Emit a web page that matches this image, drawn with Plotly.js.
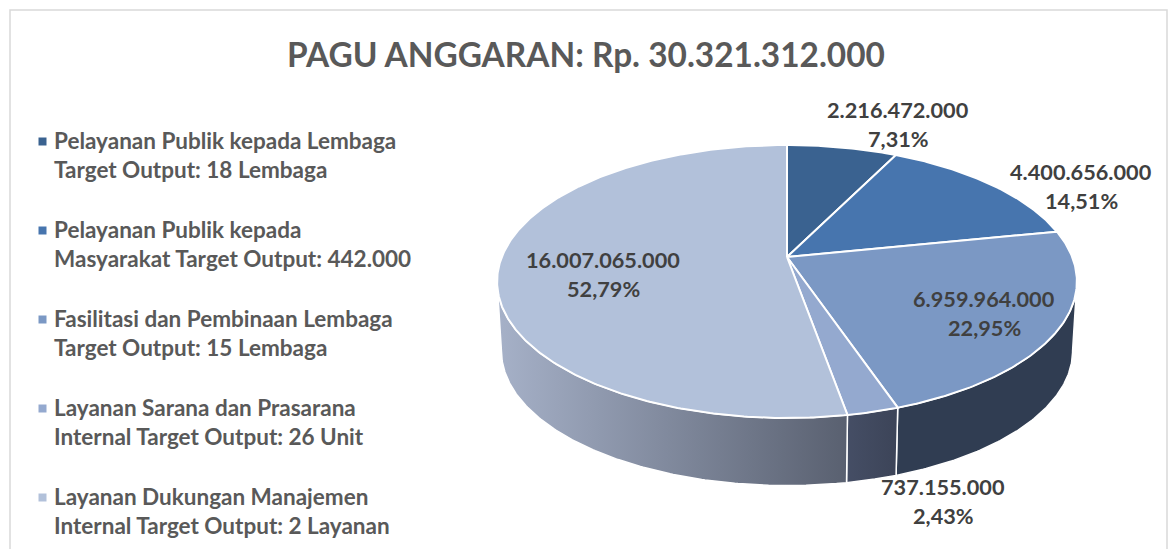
<!DOCTYPE html>
<html>
<head>
<meta charset="utf-8">
<script src="https://cdn.plot.ly/plotly-3.0.1.min.js"></script>
<style>html,body{margin:0;padding:0;background:#fff}#chart{width:1170px;height:549px}</style>
</head>
<body>
<div id="chart"></div>
<script>
// ---- data ----
const chartTitle = 'PAGU ANGGARAN: Rp. 30.321.312.000';
const categories = [
  ['Pelayanan Publik kepada Lembaga', 'Target Output: 18 Lembaga'],
  ['Pelayanan Publik kepada', 'Masyarakat Target Output: 442.000'],
  ['Fasilitasi dan Pembinaan Lembaga', 'Target Output: 15 Lembaga'],
  ['Layanan Sarana dan Prasarana', 'Internal Target Output: 26 Unit'],
  ['Layanan Dukungan Manajemen', 'Internal Target Output: 2 Layanan']
];
const values = [2216472000, 4400656000, 6959964000, 737155000, 16007065000];
const percentLabels = ['7,31%', '14,51%', '22,95%', '2,43%', '52,79%'];

// ---- styles ----
const topColors = ['#3A6290', '#4775AE', '#7B98C4', '#94A9CF', '#B2C1DA'];
const wallScales = [
  null, null,
  [[0, '#303D52'], [1, '#303D52']],
  [[0, '#454E65'], [1, '#3C4458']],
  [[0, '#A6B1C8'], [1, '#596070']]
];
const labelAnchors = [[898, 109.5], [1081, 171.5], [984, 298.5], [943, 486.5], [603, 259.5]];
const labelGap = 29;

// ---- projection of the tilted disc onto the page (axis units = pixels) ----
const P = {cx: 787, cy: 257, rx: 285.2, ry: 132.1, k: 0.1795, drop: 70, shrink: 0.985};
function topRim(t) {
  const w = 1 + P.k * Math.cos(t);
  return [P.cx + P.rx * Math.sin(t) / w, P.cy - P.ry * Math.cos(t) / w];
}
function bottomRim(t) {
  const w = 1 + P.k * Math.cos(t);
  return [P.cx + P.shrink * P.rx * Math.sin(t) / w,
          P.cy + P.drop - P.shrink * P.ry * Math.cos(t) / w];
}
function arc(fn, a, b) {
  const n = Math.max(2, Math.ceil(Math.abs(b - a) / 0.01));
  const out = [];
  for (let i = 0; i <= n; i++) out.push(fn(a + (b - a) * i / n));
  return out;
}

const total = values.reduce((s, v) => s + v, 0);
let cum = 0;
const angles = values.map(v => {
  const a = cum / total * 2 * Math.PI;
  cum += v;
  return [a, cum / total * 2 * Math.PI];
});
const tangent = Math.acos(-P.k);           // where the outline is widest
const wallFrom = tangent, wallTo = 2 * Math.PI - tangent;

const traces = [];
// side wall
angles.forEach((ang, i) => {
  const a = Math.max(ang[0], wallFrom), b = Math.min(ang[1], wallTo);
  if (b <= a) return;
  const pts = arc(topRim, a, b).concat(arc(bottomRim, b, a));
  pts.push(pts[0]);
  const xs = pts.map(p => p[0]);
  traces.push({
    type: 'scatter', mode: 'lines', x: xs, y: pts.map(p => p[1]),
    fill: 'toself',
    fillgradient: {type: 'horizontal', colorscale: wallScales[i],
                   start: Math.min(...xs), stop: Math.max(...xs)},
    line: {color: '#FFFFFF', width: 1.5},
    hoverinfo: 'skip', showlegend: false
  });
});
// top face
angles.forEach((ang, i) => {
  const pts = [[P.cx, P.cy]].concat(arc(topRim, ang[0], ang[1]));
  pts.push([P.cx, P.cy]);
  traces.push({
    type: 'scatter', mode: 'lines', x: pts.map(p => p[0]), y: pts.map(p => p[1]),
    fill: 'toself', fillcolor: topColors[i],
    line: {color: '#FFFFFF', width: 2},
    name: categories[i].join(' '), hoverinfo: 'name', showlegend: false
  });
});
// legend keys
const legendX = 42.5, legendFirstY = 141.5, legendStep = 89, legendTextX = 52, legendLine = 29.3;
traces.push({
  type: 'scatter', mode: 'markers',
  x: categories.map(() => legendX),
  y: categories.map((c, i) => legendFirstY + i * legendStep),
  marker: {symbol: 'square', size: 8, color: topColors},
  hoverinfo: 'skip', showlegend: false
});

const annotations = [];
const textBase = {xref: 'x', yref: 'y', showarrow: false, yanchor: 'middle'};
categories.forEach((lines, i) => {
  lines.forEach((t, j) => annotations.push(Object.assign({}, textBase, {
    x: legendTextX, y: legendFirstY - 1 + i * legendStep + j * legendLine,
    text: '<b>' + t + '</b>', xanchor: 'left',
    font: {family: 'Lato, Carlito, sans-serif', size: 22.5, color: '#595959'}
  })));
});
const fmt = v => String(v).replace(/\B(?=(\d{3})+$)/g, '.');
values.forEach((v, i) => {
  [fmt(v), percentLabels[i]].forEach((t, j) => annotations.push(Object.assign({}, textBase, {
    x: labelAnchors[i][0], y: labelAnchors[i][1] + j * labelGap,
    text: '<b>' + t + '</b>', xanchor: 'center',
    font: {family: 'Lato, Carlito, sans-serif', size: 21.7, color: '#404040'}
  })));
});

const layout = {
  width: 1170, height: 549,
  margin: {l: 0, r: 0, t: 0, b: 0},
  paper_bgcolor: '#FFFFFF', plot_bgcolor: '#FFFFFF',
  showlegend: false,
  title: {
    text: '<b>' + chartTitle + '</b>',
    x: 586 / 1170, xanchor: 'center', xref: 'paper',
    y: 1 - 55 / 549, yanchor: 'middle', yref: 'container',
    font: {family: 'Lato, Carlito, sans-serif', size: 33.4, color: '#595959'}
  },
  xaxis: {range: [0, 1170], visible: false, fixedrange: true},
  yaxis: {range: [549, 0], visible: false, fixedrange: true},
  shapes: [{type: 'rect', xref: 'x', yref: 'y', x0: 10, x1: 1167, y0: 10, y1: 560,
            line: {color: '#D9D9D9', width: 1.5}, layer: 'below'}],
  annotations: annotations
};
Plotly.newPlot('chart', traces, layout, {displayModeBar: false});
</script>
</body>
</html>
